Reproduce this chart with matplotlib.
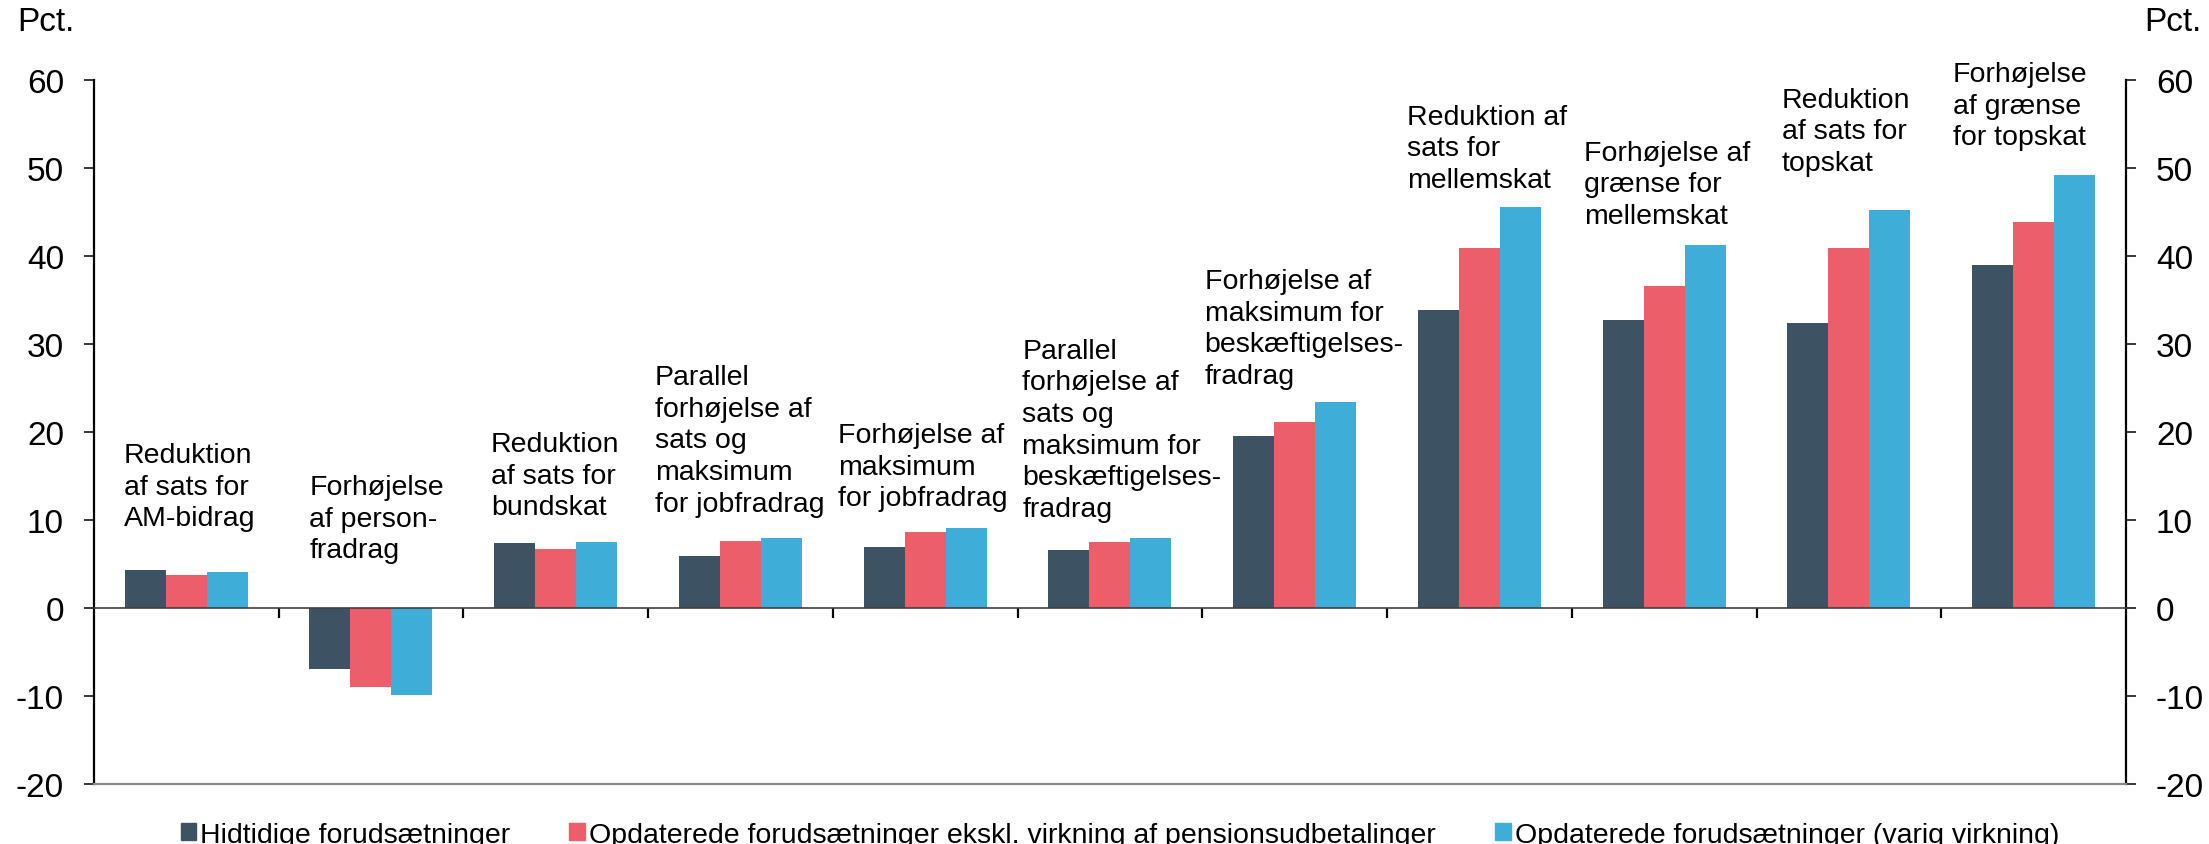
import numpy as np
import matplotlib.pyplot as plt
from matplotlib.patches import Patch

plt.rcParams["font.family"] = ["Liberation Sans", "DejaVu Sans"]
plt.rcParams["axes.unicode_minus"] = False

categories = [
    "Reduktion\naf sats for\nAM-bidrag",
    "Forhøjelse\naf person-\nfradrag",
    "Reduktion\naf sats for\nbundskat",
    "Parallel\nforhøjelse af\nsats og\nmaksimum\nfor jobfradrag",
    "Forhøjelse af\nmaksimum\nfor jobfradrag",
    "Parallel\nforhøjelse af\nsats og\nmaksimum for\nbeskæftigelses-\nfradrag",
    "Forhøjelse af\nmaksimum for\nbeskæftigelses-\nfradrag",
    "Reduktion af\nsats for\nmellemskat",
    "Forhøjelse af\ngrænse for\nmellemskat",
    "Reduktion\naf sats for\ntopskat",
    "Forhøjelse\naf grænse\nfor topskat",
]
series_names = [
    "Hidtidige forudsætninger",
    "Opdaterede forudsætninger ekskl. virkning af pensionsudbetalinger",
    "Opdaterede forudsætninger (varig virkning)",
]
hidtidige = [4.3, -6.9, 7.4, 5.9, 6.9, 6.6, 19.5, 33.8, 32.7, 32.4, 39.0]
ekskl_pension = [3.7, -9.0, 6.7, 7.6, 8.6, 7.5, 21.1, 40.9, 36.6, 40.9, 43.9]
varig = [4.1, -9.9, 7.5, 7.9, 9.1, 7.9, 23.4, 45.5, 41.2, 45.2, 49.2]
colors = ["#3d5363", "#ec5e69", "#3eaed9"]

# where the category texts sit (x offset from group centre, top in pct.)
label_dx = [-0.336, -0.333, -0.35, -0.464, -0.473, -0.474, -0.487, -0.39, -0.436, -0.363, -0.436]
label_top = [18.85, 15.2, 20.1, 27.7, 21.1, 30.7, 38.6, 57.3, 53.2, 59.2, 62.1]

fig = plt.figure(figsize=(22.09, 8.45), dpi=100)
ax = fig.add_axes([0.04244, 0.0710, 0.92, 0.8334])

x = np.arange(len(categories))
w = 0.222
for i, vals in enumerate([hidtidige, ekskl_pension, varig]):
    ax.bar(x + (i - 1) * w, vals, width=w, color=colors[i], label=series_names[i], zorder=2)

for xi, txt, dx, top in zip(x, categories, label_dx, label_top):
    ax.text(xi + dx, top, txt, ha="left", va="top", fontsize=20.5, linespacing=1.28)

ax.set_xlim(-0.5, len(categories) - 0.5)
ax.set_ylim(-20, 60)
ax.set_yticks(np.arange(-20, 61, 10))
ax.set_xticks(np.arange(0.5, len(categories) - 1, 1))
ax.set_xticklabels([])

ax.spines["top"].set_visible(False)
ax.spines["bottom"].set_position(("data", 0))
ax.spines["bottom"].set_color("#404040")
ax.spines["bottom"].set_linewidth(1.2)
ax.spines["bottom"].set_zorder(3)
for side in ["left", "right"]:
    ax.spines[side].set_linewidth(1.6)
    ax.spines[side].set_color("black")
ax.axhline(-20, color="#8a8a8a", linewidth=1.6, clip_on=False, zorder=3)

ax.tick_params(axis="y", which="both", left=True, right=True, labelleft=True, labelright=True,
               direction="out", length=7.5, width=1.1, labelsize=24, pad=14)
ax.tick_params(axis="x", direction="out", length=7, width=1.6, color="black")

fig.text(0.008, 0.992, "Pct.", ha="left", va="top", fontsize=24)
fig.text(0.9964, 0.992, "Pct.", ha="right", va="top", fontsize=24)

handles = [Patch(color=c) for c in colors]
fig.legend(handles, series_names, loc="center", bbox_to_anchor=(0.507, 0.011), ncol=3,
           frameon=False, fontsize=20.5, handlelength=0.55, handleheight=0.55,
           handletextpad=0.15, columnspacing=2.07, borderpad=0, borderaxespad=0)

fig.savefig("out.png", dpi=100)
